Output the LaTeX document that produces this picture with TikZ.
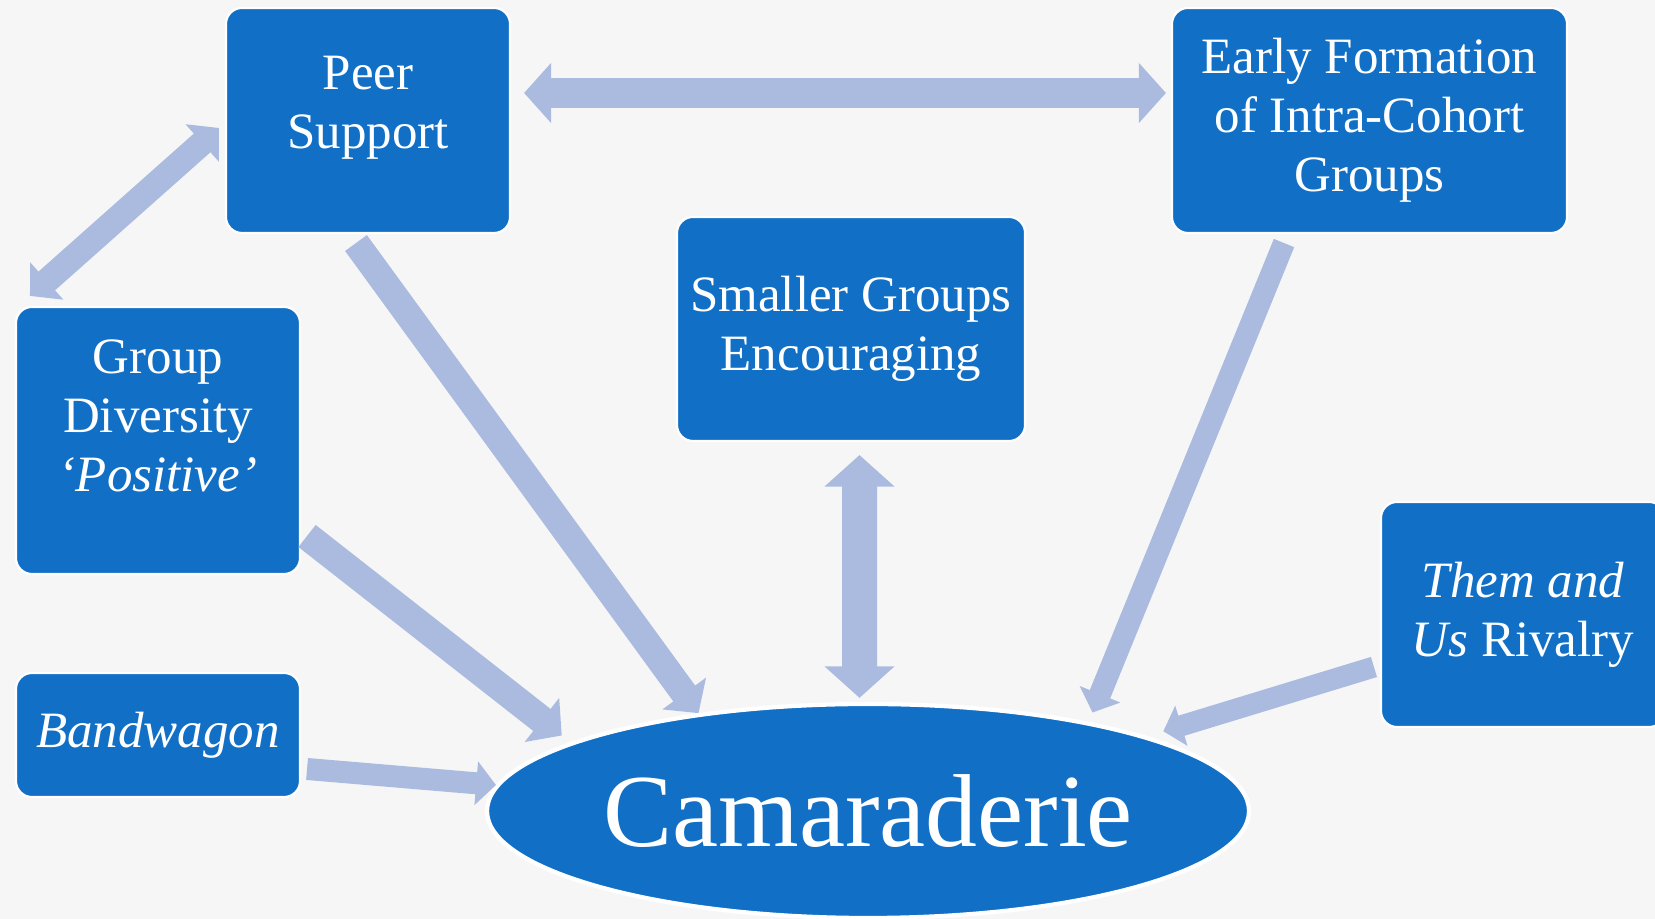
\documentclass[tikz,border=0pt]{standalone}
\usepackage{fontspec}
\setmainfont{Liberation Serif}
\usetikzlibrary{positioning, shapes.geometric, arrows.meta}
\definecolor{boxblue}{RGB}{17,112,198}
\definecolor{arrowblue}{RGB}{171,187,224}
\definecolor{bggray}{RGB}{246,246,246}

\begin{document}
\begin{tikzpicture}[
        >={Triangle[length=0pt 0.9, width=0pt 1.95]},
        box/.style={rectangle, draw=white, line width=0.6pt, fill=boxblue, rounded corners=0.16cm, minimum width=2.84cm, minimum height=2.25cm, inner sep=0pt, align=center, text=white, font=\fontsize{14.5}{16.8}\selectfont},
        boxtext/.style={align=center, text=white, font=\fontsize{14.5}{16.8}\selectfont},
        flow/.style={draw=arrowblue, line width=#1},
        flow/.default=0.25cm
    ]
    \useasboundingbox (0,0) rectangle (16.55,9.19);
    \fill[bggray] (0,0) rectangle (16.55,9.19);

    % FILA SUPERIOR
    \node[box] (peer) at (3.68,7.985) {};
    \node[boxtext] (peerlbl) at ([yshift=0.125cm]peer.center) {Peer\\Support};
    \node[box, minimum width=3.95cm] (early) at (13.695,7.985) {Early Formation\\of Intra-Cohort\\Groups};

    % FILA CENTRAL
    \node[box, minimum width=3.48cm, minimum height=2.24cm] (small) at (8.51,5.90) {Smaller Groups\\Encouraging};
    \node[box, minimum height=2.67cm] (gdiv) at (1.58,4.785) {};
    \node[boxtext] (gdivlbl) at ([yshift=0.245cm]gdiv.center) {Group\\Diversity\\\textit{‘Positive’}};
    \node[box] (them) at (15.23,3.045) {\textit{Them and}\\\textit{Us} Rivalry};

    % FILA INFERIOR
    \node[box, minimum height=1.24cm] (band) at (1.58,1.84) {\textit{Bandwagon}};
    \node[ellipse, draw=white, line width=1.2pt, fill=boxblue, minimum width=7.62cm, minimum height=2.14cm, inner sep=0pt, text=white, font=\fontsize{29.5}{34}\selectfont] (cam) at (8.68,1.08) {Camaraderie};

    % Flechas
    \draw[flow=0.30cm, <->] ([xshift=0.13cm, yshift=0.275cm]peer.east) -- ([xshift=-0.05cm, yshift=0.275cm]early.west);
    \draw[flow=0.25cm, <->] ([xshift=-0.06cm, yshift=-0.075cm]peer.west) -- ([xshift=0.15cm, yshift=0.10cm]gdiv.north west);
    \draw[flow=0.35cm, <->] ([xshift=0.085cm, yshift=-0.13cm]small.south) -- ([xshift=-0.085cm, yshift=0.04cm]cam.north);
    \draw[flow=0.27cm, ->] ([xshift=-0.12cm, yshift=-0.09cm]peer.south) -- (cam.150);
    \draw[flow=0.22cm, ->, shorten >=0.1cm] ([xshift=-0.855cm, yshift=-0.09cm]early.south) -- (cam.22);
    \draw[flow=0.28cm, ->, shorten >=0.11cm] ([xshift=0.06cm, yshift=-0.955cm]gdiv.east) -- (cam.167);
    \draw[flow=0.22cm, ->] ([xshift=0.06cm, yshift=-0.34cm]band.east) -- (cam.176);
    \draw[flow=0.21cm, ->, shorten >=0.17cm] ([xshift=-0.06cm, yshift=-0.525cm]them.west) -- (cam.15);
\end{tikzpicture}
\end{document}
